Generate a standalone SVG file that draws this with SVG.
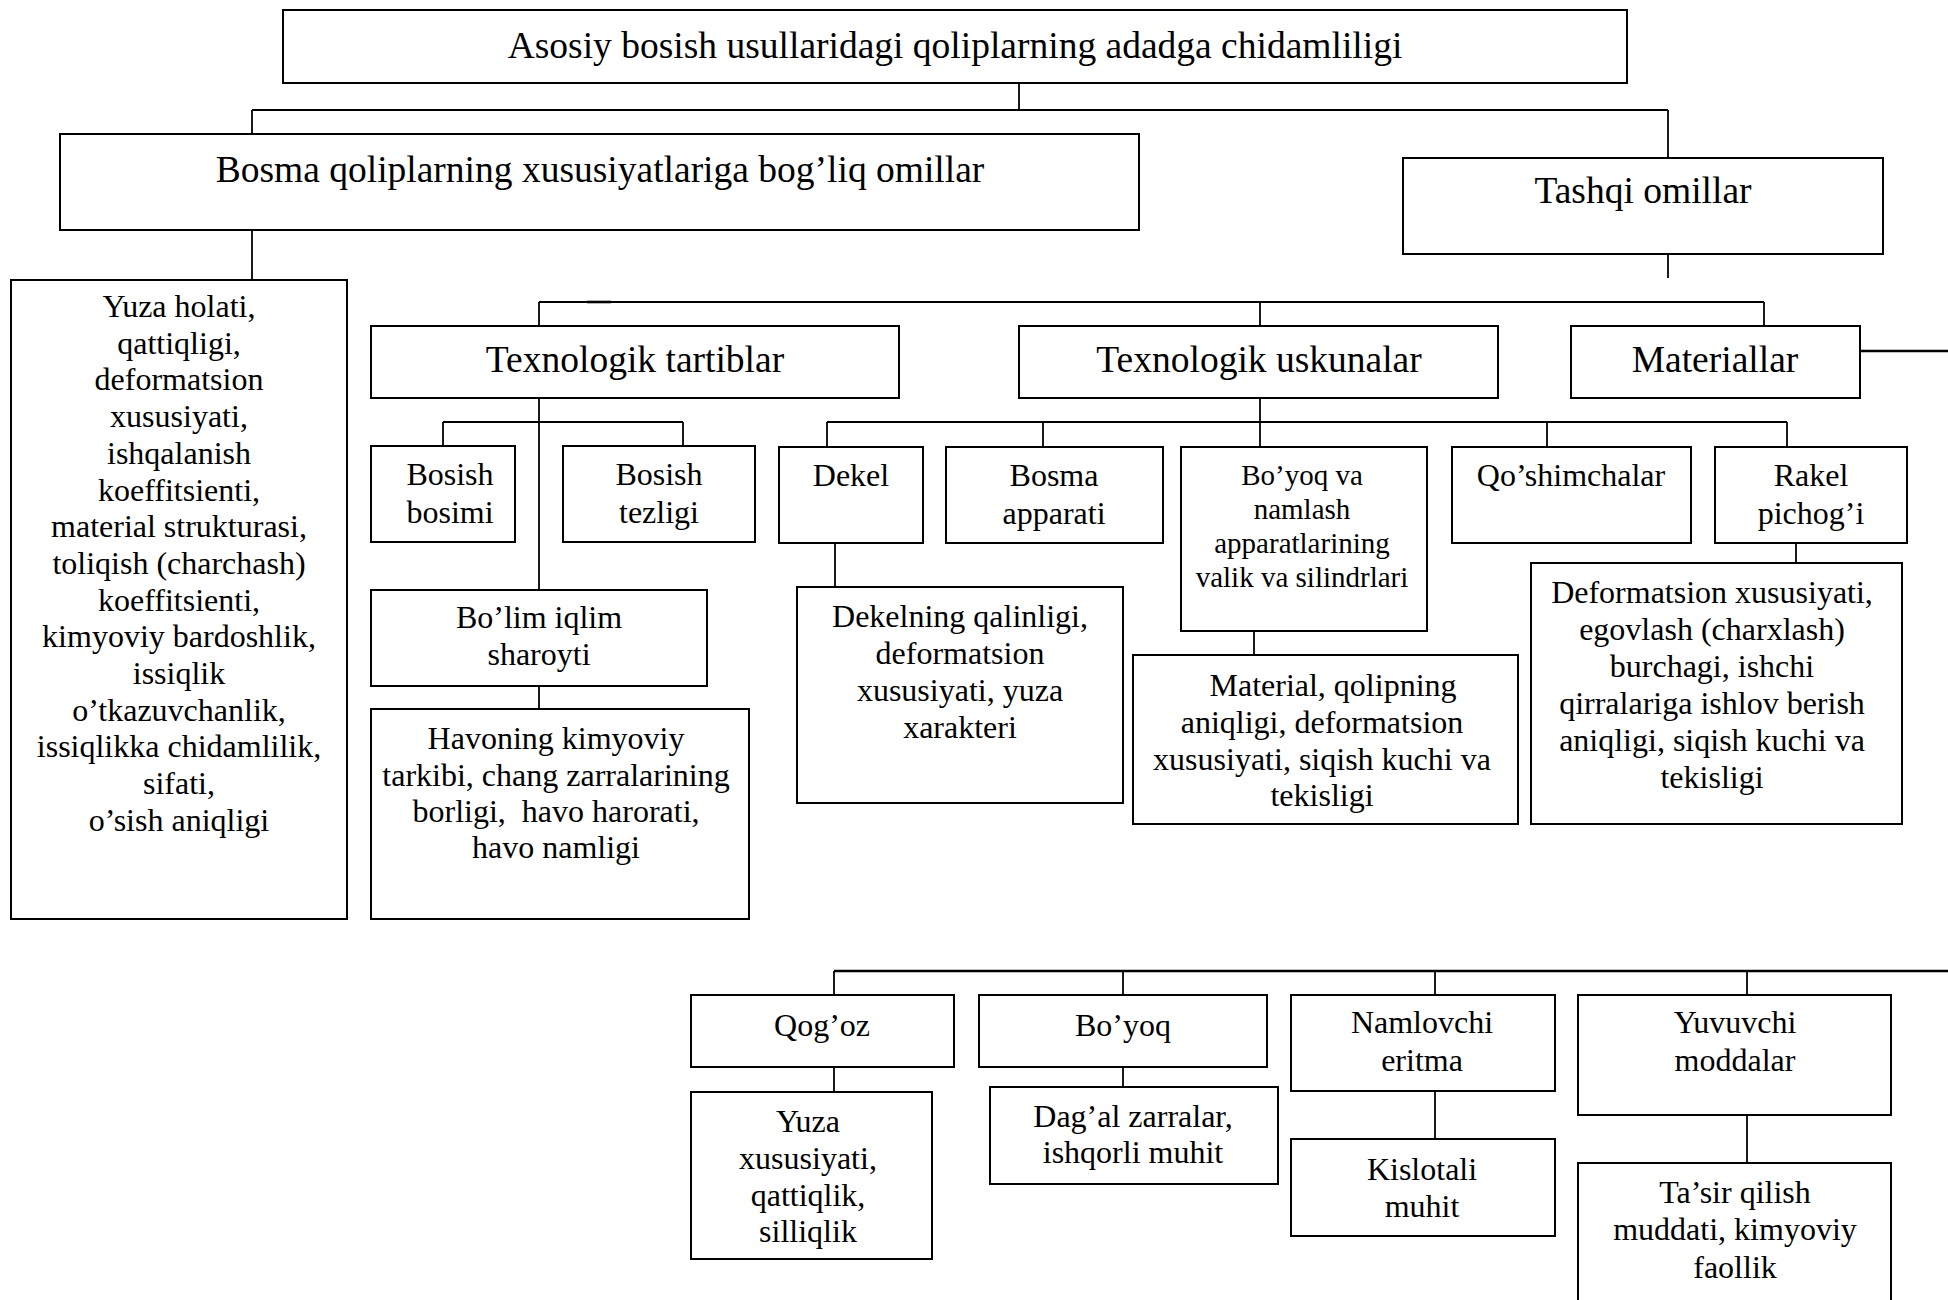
<svg xmlns="http://www.w3.org/2000/svg" width="1948" height="1300" viewBox="0 0 1948 1300">
<style>
  .box { fill: #ffffff; stroke: #000000; stroke-width: 2; }
  .ln { fill: none; stroke: #000000; stroke-width: 1.8; }
  .thick { fill: none; stroke: #000000; stroke-width: 2.6; }
  text { font-family: "Liberation Serif", "Times New Roman", serif; fill: #000000; text-anchor: middle; }
  .big { font-size: 37.5px; }
  .sm { font-size: 32px; }
  .xs { font-size: 29px; }
</style>
<rect x="0" y="0" width="1948" height="1300" fill="#ffffff"/>

<g id="connectors">
  <line class="ln" x1="1019" y1="83" x2="1019" y2="110"/>
  <line class="ln" x1="252" y1="110" x2="1668" y2="110"/>
  <line class="ln" x1="252" y1="110" x2="252" y2="134"/>
  <line class="ln" x1="1668" y1="110" x2="1668" y2="158"/>
  <line class="ln" x1="252" y1="230" x2="252" y2="280"/>
  <line class="ln" x1="1668" y1="255" x2="1668" y2="278"/>
  <line class="ln" x1="539" y1="302" x2="1764" y2="302"/>
  <line class="thick" x1="587" y1="302" x2="611" y2="302"/>
  <line class="ln" x1="539" y1="302" x2="539" y2="326"/>
  <line class="ln" x1="1260" y1="302" x2="1260" y2="326"/>
  <line class="ln" x1="1764" y1="302" x2="1764" y2="326"/>
  <line class="thick" x1="1860" y1="351" x2="1948" y2="351"/>
  <line class="ln" x1="539" y1="398" x2="539" y2="590"/>
  <line class="ln" x1="443" y1="422" x2="683" y2="422"/>
  <line class="ln" x1="443" y1="422" x2="443" y2="446"/>
  <line class="ln" x1="683" y1="422" x2="683" y2="446"/>
  <line class="ln" x1="539" y1="686" x2="539" y2="709"/>
  <line class="ln" x1="1260" y1="398" x2="1260" y2="447"/>
  <line class="ln" x1="827" y1="422" x2="1787" y2="422"/>
  <line class="ln" x1="827" y1="422" x2="827" y2="447"/>
  <line class="ln" x1="1043" y1="422" x2="1043" y2="447"/>
  <line class="ln" x1="1547" y1="422" x2="1547" y2="447"/>
  <line class="ln" x1="1787" y1="422" x2="1787" y2="447"/>
  <line class="ln" x1="835" y1="543" x2="835" y2="587"/>
  <line class="ln" x1="1254" y1="631" x2="1254" y2="655"/>
  <line class="ln" x1="1796" y1="543" x2="1796" y2="563"/>
  <line class="thick" x1="834" y1="971" x2="1948" y2="971"/>
  <line class="ln" x1="834" y1="971" x2="834" y2="995"/>
  <line class="ln" x1="1123" y1="971" x2="1123" y2="995"/>
  <line class="ln" x1="1435" y1="971" x2="1435" y2="995"/>
  <line class="ln" x1="1747" y1="971" x2="1747" y2="995"/>
  <line class="ln" x1="834" y1="1067" x2="834" y2="1092"/>
  <line class="ln" x1="1123" y1="1067" x2="1123" y2="1092"/>
  <line class="ln" x1="1435" y1="1091" x2="1435" y2="1139"/>
  <line class="ln" x1="1747" y1="1115" x2="1747" y2="1163"/>
</g>

<g id="n-root">
  <rect class="box" x="283" y="10" width="1344" height="73"/>
  <text class="big" x="955" y="58">Asosiy bosish usullaridagi qoliplarning adadga chidamliligi</text>
</g>
<g id="n-bosma">
  <rect class="box" x="60" y="134" width="1079" height="96"/>
  <text class="big" x="600" y="182">Bosma qoliplarning xususiyatlariga bog’liq omillar</text>
</g>
<g id="n-tashqi">
  <rect class="box" x="1403" y="158" width="480" height="96"/>
  <text class="big" x="1643" y="203">Tashqi omillar</text>
</g>
<g id="n-yuza">
  <rect class="box" x="11" y="280" width="336" height="639"/>
  <text class="sm" x="179" y="317">Yuza holati,</text>
  <text class="sm" x="179" y="353.7">qattiqligi,</text>
  <text class="sm" x="179" y="390.4">deformatsion</text>
  <text class="sm" x="179" y="427.1">xususiyati,</text>
  <text class="sm" x="179" y="463.8">ishqalanish</text>
  <text class="sm" x="179" y="500.5">koeffitsienti,</text>
  <text class="sm" x="179" y="537.2">material strukturasi,</text>
  <text class="sm" x="179" y="573.9">toliqish (charchash)</text>
  <text class="sm" x="179" y="610.6">koeffitsienti,</text>
  <text class="sm" x="179" y="647.3">kimyoviy bardoshlik,</text>
  <text class="sm" x="179" y="684">issiqlik</text>
  <text class="sm" x="179" y="720.7">o’tkazuvchanlik,</text>
  <text class="sm" x="179" y="757.4">issiqlikka chidamlilik,</text>
  <text class="sm" x="179" y="794.1">sifati,</text>
  <text class="sm" x="179" y="830.8">o’sish aniqligi</text>
</g>
<g id="n-tartiblar">
  <rect class="box" x="371" y="326" width="528" height="72"/>
  <text class="big" x="635" y="372">Texnologik tartiblar</text>
</g>
<g id="n-uskunalar">
  <rect class="box" x="1019" y="326" width="479" height="72"/>
  <text class="big" x="1259" y="372">Texnologik uskunalar</text>
</g>
<g id="n-materiallar">
  <rect class="box" x="1571" y="326" width="289" height="72"/>
  <text class="big" x="1715" y="372">Materiallar</text>
</g>
<g id="n-bosish-bosimi">
  <rect class="box" x="371" y="446" width="144" height="96"/>
  <text class="sm" x="450" y="485">Bosish</text>
  <text class="sm" x="450" y="523">bosimi</text>
</g>
<g id="n-bosish-tezligi">
  <rect class="box" x="563" y="446" width="192" height="96"/>
  <text class="sm" x="659" y="485">Bosish</text>
  <text class="sm" x="659" y="523">tezligi</text>
</g>
<g id="n-bolim">
  <rect class="box" x="371" y="590" width="336" height="96"/>
  <text class="sm" x="539" y="628">Bo’lim iqlim</text>
  <text class="sm" x="539" y="665">sharoyti</text>
</g>
<g id="n-havoning">
  <rect class="box" x="371" y="709" width="378" height="210"/>
  <text class="sm" x="556" y="749">Havoning kimyoviy</text>
  <text class="sm" x="556" y="786">tarkibi, chang zarralarining</text>
  <text class="sm" x="556" y="822">borligi,&#160; havo harorati,</text>
  <text class="sm" x="556" y="858">havo namligi</text>
</g>
<g id="n-dekel">
  <rect class="box" x="779" y="447" width="144" height="96"/>
  <text class="sm" x="851" y="486">Dekel</text>
</g>
<g id="n-bosma-apparati">
  <rect class="box" x="946" y="447" width="217" height="96"/>
  <text class="sm" x="1054" y="486">Bosma</text>
  <text class="sm" x="1054" y="524">apparati</text>
</g>
<g id="n-boyoq-namlash">
  <rect class="box" x="1181" y="447" width="246" height="184"/>
  <text class="xs" x="1302" y="485">Bo’yoq va</text>
  <text class="xs" x="1302" y="519">namlash</text>
  <text class="xs" x="1302" y="553">apparatlarining</text>
  <text class="xs" x="1302" y="587">valik va silindrlari</text>
</g>
<g id="n-qoshimchalar">
  <rect class="box" x="1452" y="447" width="239" height="96"/>
  <text class="sm" x="1571" y="486">Qo’shimchalar</text>
</g>
<g id="n-rakel">
  <rect class="box" x="1715" y="447" width="192" height="96"/>
  <text class="sm" x="1811" y="486">Rakel</text>
  <text class="sm" x="1811" y="524">pichog’i</text>
</g>
<g id="n-dekelning">
  <rect class="box" x="797" y="587" width="326" height="216"/>
  <text class="sm" x="960" y="627">Dekelning qalinligi,</text>
  <text class="sm" x="960" y="664">deformatsion</text>
  <text class="sm" x="960" y="701">xususiyati, yuza</text>
  <text class="sm" x="960" y="738">xarakteri</text>
</g>
<g id="n-material">
  <rect class="box" x="1133" y="655" width="385" height="169"/>
  <text class="sm" x="1333" y="696">Material, qolipning</text>
  <text class="sm" x="1322" y="733">aniqligi, deformatsion</text>
  <text class="sm" x="1322" y="770">xususiyati, siqish kuchi va</text>
  <text class="sm" x="1322" y="806">tekisligi</text>
</g>
<g id="n-deformatsion">
  <rect class="box" x="1531" y="563" width="371" height="261"/>
  <text class="sm" x="1712" y="603">Deformatsion xususiyati,</text>
  <text class="sm" x="1712" y="640">egovlash (charxlash)</text>
  <text class="sm" x="1712" y="677">burchagi, ishchi</text>
  <text class="sm" x="1712" y="714">qirralariga ishlov berish</text>
  <text class="sm" x="1712" y="751">aniqligi, siqish kuchi va</text>
  <text class="sm" x="1712" y="788">tekisligi</text>
</g>
<g id="n-qogoz">
  <rect class="box" x="691" y="995" width="263" height="72"/>
  <text class="sm" x="822" y="1036">Qog’oz</text>
</g>
<g id="n-boyoq">
  <rect class="box" x="979" y="995" width="288" height="72"/>
  <text class="sm" x="1123" y="1036">Bo’yoq</text>
</g>
<g id="n-namlovchi">
  <rect class="box" x="1291" y="995" width="264" height="96"/>
  <text class="sm" x="1422" y="1033">Namlovchi</text>
  <text class="sm" x="1422" y="1071">eritma</text>
</g>
<g id="n-yuvuvchi">
  <rect class="box" x="1578" y="995" width="313" height="120"/>
  <text class="sm" x="1735" y="1033">Yuvuvchi</text>
  <text class="sm" x="1735" y="1071">moddalar</text>
</g>
<g id="n-yuza-xususiyati">
  <rect class="box" x="691" y="1092" width="241" height="167"/>
  <text class="sm" x="808" y="1132">Yuza</text>
  <text class="sm" x="808" y="1169">xususiyati,</text>
  <text class="sm" x="808" y="1206">qattiqlik,</text>
  <text class="sm" x="808" y="1242">silliqlik</text>
</g>
<g id="n-dagal">
  <rect class="box" x="990" y="1087" width="288" height="97"/>
  <text class="sm" x="1133" y="1127">Dag’al zarralar,</text>
  <text class="sm" x="1133" y="1163">ishqorli muhit</text>
</g>
<g id="n-kislotali">
  <rect class="box" x="1291" y="1139" width="264" height="97"/>
  <text class="sm" x="1422" y="1180">Kislotali</text>
  <text class="sm" x="1422" y="1217">muhit</text>
</g>
<g id="n-tasir">
  <rect class="box" x="1578" y="1163" width="313" height="145"/>
  <text class="sm" x="1735" y="1203">Ta’sir qilish</text>
  <text class="sm" x="1735" y="1240">muddati, kimyoviy</text>
  <text class="sm" x="1735" y="1278">faollik</text>
</g>
</svg>
